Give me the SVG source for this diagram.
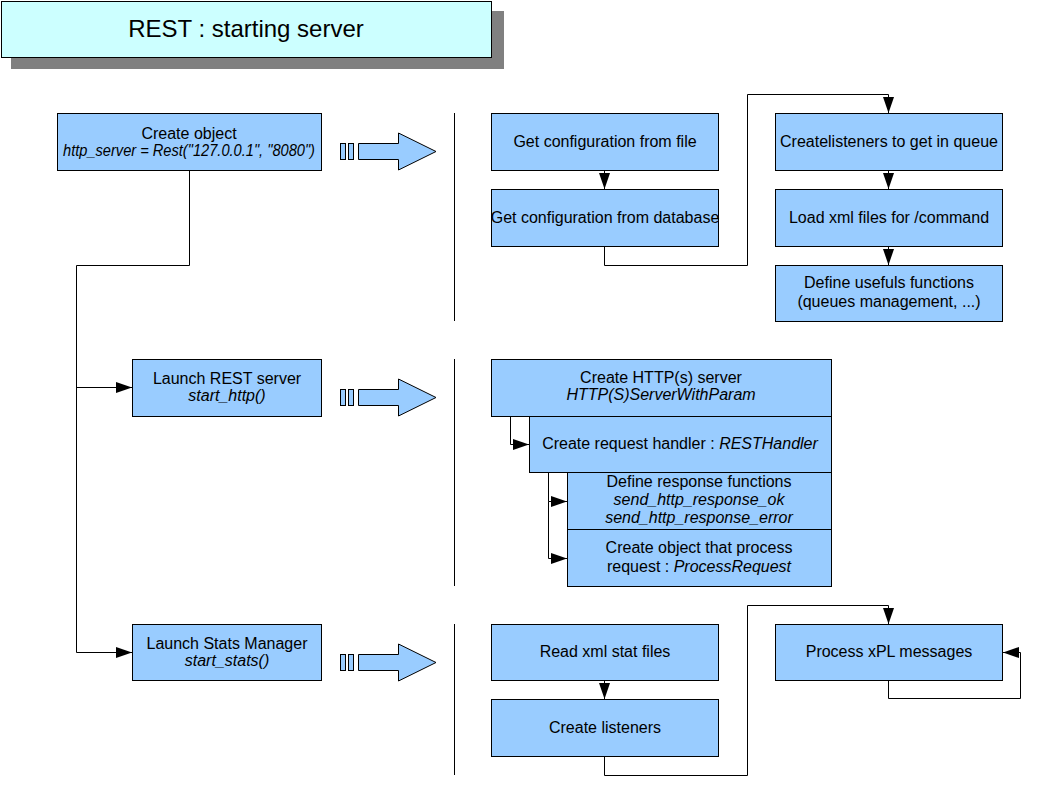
<svg xmlns="http://www.w3.org/2000/svg" width="1058" height="794" viewBox="0 0 1058 794">
<defs>
<style>
.box{fill:#99CCFF;stroke:#000;stroke-width:1}
.t{font-family:"Liberation Sans",Arial,sans-serif;font-size:16px;fill:#000;text-anchor:middle}
.i{font-style:italic}
.ln{fill:none;stroke:#000;stroke-width:1}
.big{fill:#99CCFF;stroke:#000;stroke-width:1}
</style>
<marker id="ah" markerUnits="userSpaceOnUse" markerWidth="17" markerHeight="11" refX="16" refY="5.5" orient="auto">
<path d="M0,0 L16,5.5 L0,11 z" fill="#000"/>
</marker>
<g id="bigarrow">
<rect class="big" x="340.5" y="143.5" width="5" height="16"/>
<rect class="big" x="348.5" y="143.5" width="5" height="16"/>
<polygon class="big" points="358.5,143.5 398.5,143.5 398.5,133 436,151.5 398.5,170 398.5,159.5 358.5,159.5"/>
</g>
</defs>
<rect width="1058" height="794" fill="#fff"/>

<g id="title">
<rect x="11" y="11" width="493" height="58" fill="#808080"/>
<rect x="1.5" y="1.5" width="490" height="56" fill="#CCFFFF" stroke="#000"/>
<text x="246" y="37" style="font-family:'Liberation Sans',Arial,sans-serif;font-size:24px;text-anchor:middle">REST : starting server</text>
</g>

<g id="connectors">
<polyline class="ln" points="189.5,170.5 189.5,265.5 76.5,265.5 76.5,652.5 132,652.5" marker-end="url(#ah)"/>
<polyline class="ln" points="76.5,387.5 132,387.5" marker-end="url(#ah)"/>
<polyline class="ln" points="604.5,170.5 604.5,189" marker-end="url(#ah)"/>
<polyline class="ln" points="604.5,246.5 604.5,265.5 747.5,265.5 747.5,94.5 888.5,94.5 888.5,113" marker-end="url(#ah)"/>
<polyline class="ln" points="888.5,170.5 888.5,189" marker-end="url(#ah)"/>
<polyline class="ln" points="888.5,246.5 888.5,265" marker-end="url(#ah)"/>
<polyline class="ln" points="510.5,416.5 510.5,444.5 529,444.5" marker-end="url(#ah)"/>
<polyline class="ln" points="548.5,472.5 548.5,501.5 567,501.5" marker-end="url(#ah)"/>
<polyline class="ln" points="548.5,501.5 548.5,558.5 567,558.5" marker-end="url(#ah)"/>
<polyline class="ln" points="604.5,680.5 604.5,699" marker-end="url(#ah)"/>
<polyline class="ln" points="604.5,756.5 604.5,775.5 747.5,775.5 747.5,605.5 888.5,605.5 888.5,624" marker-end="url(#ah)"/>
<polyline class="ln" points="888.5,680.5 888.5,698.5 1020.5,698.5 1020.5,652.5 1003,652.5" marker-end="url(#ah)"/>
</g>

<g id="separators">
<line class="ln" x1="454.5" y1="113" x2="454.5" y2="321"/>
<line class="ln" x1="454.5" y1="359" x2="454.5" y2="586"/>
<line class="ln" x1="454.5" y1="624" x2="454.5" y2="775"/>
</g>

<g id="bigarrows">
<use href="#bigarrow"/>
<use href="#bigarrow" transform="translate(0,246)"/>
<use href="#bigarrow" transform="translate(0,511)"/>
</g>

<g id="n-create-object">
<rect class="box" x="57.5" y="113.5" width="264" height="57"/>
<text class="t" x="189" y="139">Create object</text>
<text class="t i" x="189" y="156" textLength="252" lengthAdjust="spacingAndGlyphs">http_server = Rest("127.0.0.1", "8080")</text>
</g>
<g id="n-launch-rest">
<rect class="box" x="132.5" y="359.5" width="189" height="57"/>
<text class="t" x="227" y="384">Launch REST server</text>
<text class="t i" x="227" y="401">start_http()</text>
</g>
<g id="n-launch-stats">
<rect class="box" x="132.5" y="624.5" width="189" height="56"/>
<text class="t" x="227" y="649">Launch Stats Manager</text>
<text class="t i" x="227" y="666">start_stats()</text>
</g>
<g id="n-config-file">
<rect class="box" x="491.5" y="113.5" width="227" height="57"/>
<text class="t" x="605" y="147">Get configuration from file</text>
</g>
<g id="n-config-db">
<rect class="box" x="491.5" y="189.5" width="227" height="57"/>
<text class="t" x="605" y="223">Get configuration from database</text>
</g>
<g id="n-createlisteners">
<rect class="box" x="775.5" y="113.5" width="227" height="57"/>
<text class="t" x="889" y="147">Createlisteners to get in queue</text>
</g>
<g id="n-load-xml">
<rect class="box" x="775.5" y="189.5" width="227" height="57"/>
<text class="t" x="889" y="223">Load xml files for /command</text>
</g>
<g id="n-define-usefuls">
<rect class="box" x="775.5" y="265.5" width="227" height="56"/>
<text class="t" x="889" y="288">Define usefuls functions</text>
<text class="t" x="889" y="307">(queues management, ...)</text>
</g>
<g id="n-http-server">
<rect class="box" x="491.5" y="359.5" width="340" height="57"/>
<text class="t" x="661" y="383">Create HTTP(s) server</text>
<text class="t i" x="661" y="400">HTTP(S)ServerWithParam</text>
</g>
<g id="n-request-handler">
<rect class="box" x="529.5" y="416.5" width="302" height="56"/>
<text class="t" x="680" y="449">Create request handler : <tspan class="i">RESTHandler</tspan></text>
</g>
<g id="n-response-functions">
<rect class="box" x="567.5" y="472.5" width="264" height="57"/>
<text class="t" x="699" y="487">Define response functions</text>
<text class="t i" x="699" y="505">send_http_response_ok</text>
<text class="t i" x="699" y="523">send_http_response_error</text>
</g>
<g id="n-process-request">
<rect class="box" x="567.5" y="529.5" width="264" height="57"/>
<text class="t" x="699" y="553">Create object that process</text>
<text class="t" x="699" y="572">request : <tspan class="i">ProcessRequest</tspan></text>
</g>
<g id="n-read-xml-stat">
<rect class="box" x="491.5" y="624.5" width="227" height="56"/>
<text class="t" x="605" y="657">Read xml stat files</text>
</g>
<g id="n-create-listeners">
<rect class="box" x="491.5" y="699.5" width="227" height="57"/>
<text class="t" x="605" y="733">Create listeners</text>
</g>
<g id="n-process-xpl">
<rect class="box" x="775.5" y="624.5" width="227" height="56"/>
<text class="t" x="889" y="657">Process xPL messages</text>
</g>
</svg>
